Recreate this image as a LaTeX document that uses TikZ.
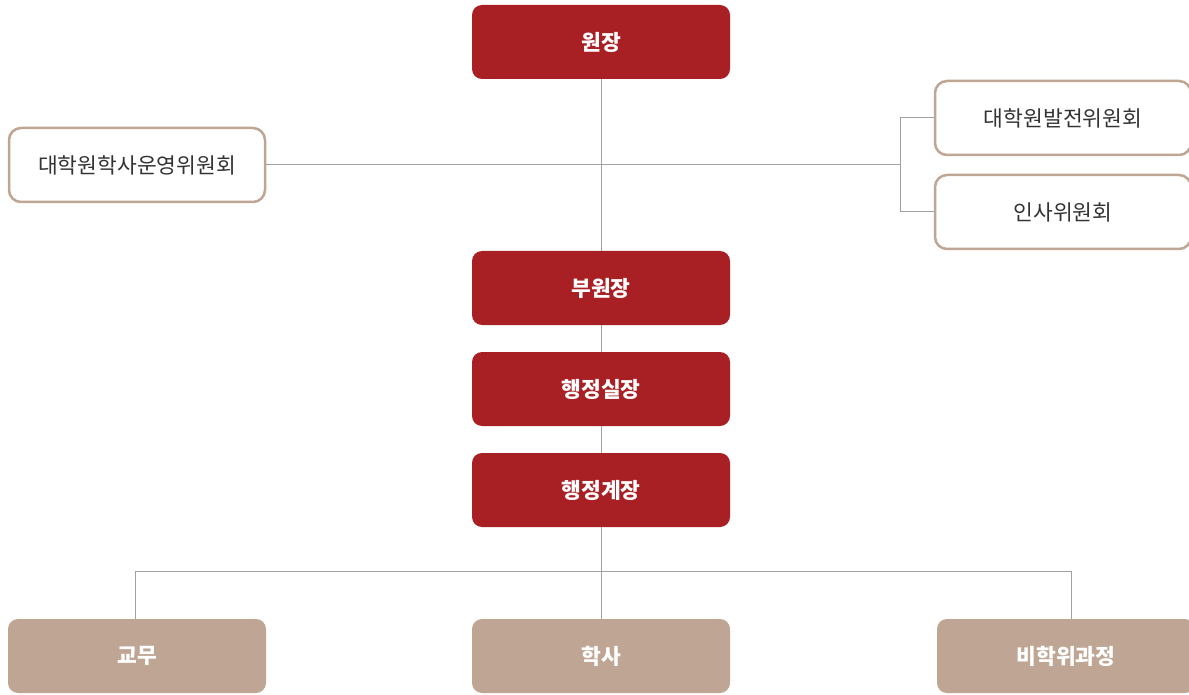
\documentclass[tikz,border=0pt]{standalone}
\usepackage{fontspec}
\setmainfont{Noto Sans CJK KR}
\definecolor{headred}{HTML}{A81F24}
\definecolor{tan}{HTML}{BFA593}
\definecolor{linegray}{HTML}{A0A0A0}
\begin{document}
\begin{tikzpicture}[x=1pt,y=-1pt,
  head/.style={rectangle, rounded corners=10pt, fill=headred, text=white,
    minimum width=258pt, minimum height=74pt, inner sep=0pt, font=\fontsize{21.5}{26}\selectfont\bfseries},
  board/.style={rectangle, rounded corners=12pt, draw=tan, line width=2.5pt, fill=white, text=black!80,
    minimum width=256pt, minimum height=74pt, inner sep=0pt, font=\fontsize{21.5}{26}\selectfont},
  dept/.style={rectangle, rounded corners=10pt, fill=tan, text=white,
    minimum width=258pt, minimum height=74pt, inner sep=0pt, font=\fontsize{21.5}{26}\selectfont\bfseries},
  wire/.style={draw=linegray, line width=1pt}]
\useasboundingbox (0,0) rectangle (1189,695);
\node[head] (1) at (601,42) {원장};
\node[board] (2) at (137,165) {대학원학사운영위원회};
\node[board] (3) at (1063,118) {대학원발전위원회};
\node[board] (4) at (1063,212) {인사위원회};
\node[head] (5) at (601,288) {부원장};
\node[head] (6) at (601,389) {행정실장};
\node[head] (7) at (601,490) {행정계장};
\node[dept] (8) at (137,656) {교무};
\node[dept] (9) at (601,656) {학사};
\node[dept] (10) at (1066,656) {비학위과정};
\coordinate (b) at (900,165);
\coordinate (m) at (601,571);
\path[wire] (1) -- (5);
\path[wire] (2) -- (b);
\path[wire] (3.west) -| (b) |- (4.west);
\path[wire] (5) -- (6);
\path[wire] (6) -- (7);
\path[wire] (7) -- (9);
\path[wire] (m) -| ([xshift=-2pt]8.north);
\path[wire] (m) -| ([xshift=5pt]10.north);
\end{tikzpicture}
\end{document}
